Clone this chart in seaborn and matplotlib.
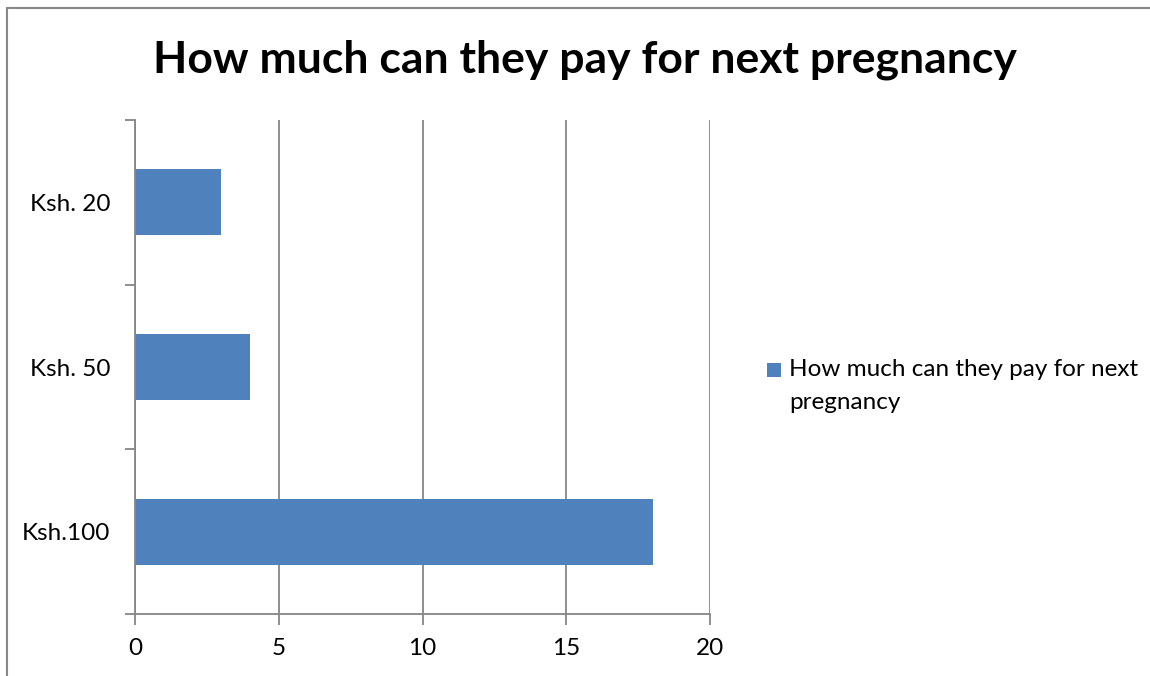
import matplotlib
matplotlib.use("Agg")
import matplotlib.pyplot as plt
import matplotlib.patches as mpatches
import seaborn as sns
import pandas as pd

categories = ["Ksh. 20", "Ksh. 50", "Ksh.100"]
values = [3, 4, 18]
series_name = "How much can they pay for next pregnancy"
title = "How much can they pay for next pregnancy"
x_ticks = [0, 5, 10, 15, 20]

sns.set_theme(style="white")
plt.rcParams["font.family"] = ["Lato", "DejaVu Sans"]

bar_color = "#4F81BD"
axis_gray = "#868686"

df = pd.DataFrame({"amount": categories, "count": values})

fig = plt.figure(figsize=(11.5, 6.76), dpi=100)
ax = fig.add_axes([135 / 1150, 1 - 614 / 676, 575 / 1150, 494 / 676])

sns.barplot(data=df, x="count", y="amount", order=categories, orient="h",
            color=bar_color, saturation=1, width=0.4, linewidth=0,
            ax=ax, zorder=3)

ax.set_xlim(0, 20)
ax.set_ylim(len(categories) - 0.5, -0.5)
ax.set_xticks(x_ticks)
ax.set_xticklabels([str(t) for t in x_ticks], fontsize=17.5, color="black")
ax.set_yticks(range(len(categories)))
ax.set_yticklabels(categories, fontsize=17.5, color="black")
ax.set_yticks([i - 0.5 for i in range(len(categories) + 1)], minor=True)
ax.tick_params(axis="y", which="major", length=0, pad=18)
ax.tick_params(axis="y", which="minor", length=7, width=1.3, color=axis_gray, left=True)
ax.tick_params(axis="x", which="major", length=8, width=1.3, color=axis_gray, bottom=True, pad=9)
ax.set_xlabel("")
ax.set_ylabel("")

ax.grid(axis="x", color=axis_gray, linewidth=1.3, zorder=0)
ax.grid(axis="y", visible=False)
for side in ("top", "right"):
    ax.spines[side].set_visible(False)
for side in ("left", "bottom"):
    ax.spines[side].set_color(axis_gray)
    ax.spines[side].set_linewidth(1.3)
    ax.spines[side].set_zorder(4)

fig.text(585 / 1150, 1 - 60 / 676, title, ha="center", va="center",
         fontsize=32, fontweight="bold", color="black")

# legend: colour key plus wrapped series name
W, H = 1150, 676
key = mpatches.Rectangle((767 / W, 1 - 377 / H), 14 / W, 14 / H,
                         transform=fig.transFigure, facecolor=bar_color,
                         edgecolor="none")
fig.patches.append(key)
fig.text(789 / W, 1 - 359 / H, "How much can they pay for next\npregnancy",
         ha="left", va="top", fontsize=17.5, linespacing=1.7, color="black")

# chart-area border
border = mpatches.Rectangle((7 / W, -0.2), 2, 1.2 - 8 / H,
                            transform=fig.transFigure, fill=False,
                            edgecolor="#898989", linewidth=1.5, clip_on=False)
fig.patches.append(border)

fig.savefig("out.png", dpi=100, facecolor="white")
